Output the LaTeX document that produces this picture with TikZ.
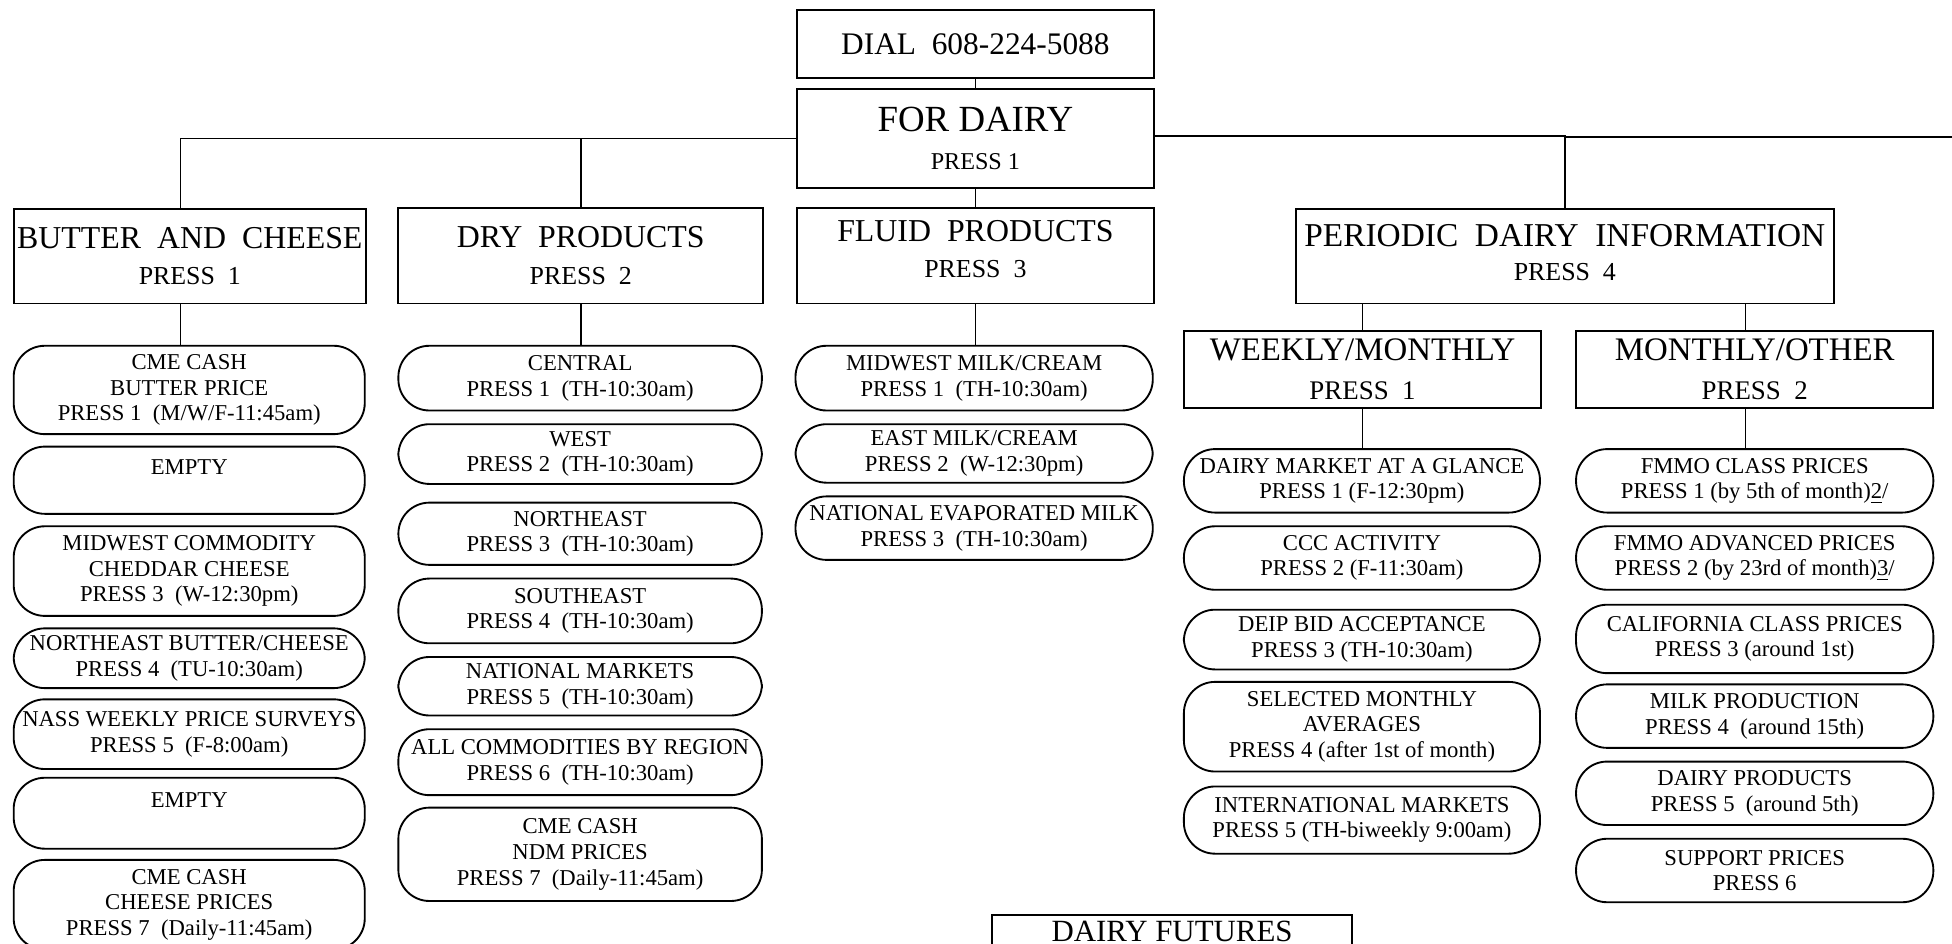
\documentclass[tikz,border=0pt]{standalone}
\usepackage{fontspec}
\setmainfont{Liberation Serif}
\usepackage{tikz}

\newcommand{\pillfont}{\fontsize{9.1}{10.3}\selectfont}
\newcommand{\headfont}{\fontsize{12.8}{14.5}\selectfont}
\newcommand{\subfont}{\fontsize{10.4}{12}\selectfont}

\tikzset{
	headbox/.style={draw, line width=0.8pt, inner sep=0pt, align=center, font=\headfont, anchor=north},
	pill/.style={draw, line width=0.75pt, rounded corners=12.5pt, inner sep=0pt, align=center, font=\pillfont, anchor=north},
	link/.style={line width=0.7pt},
}

\begin{document}
\begin{tikzpicture}[x=0.5pt,y=-0.5pt]
			\path[use as bounding box, fill=white] (0,0) rectangle (1568,758);
			% top of the tree
			\node[headbox, minimum width=143.5pt, minimum height=27.5pt, font=\fontsize{12.6}{14}\selectfont] (dial) at (783.5,7) {DIAL~ 608-224-5088};
			\node[headbox, minimum width=143.5pt, minimum height=39.5pt, font=\fontsize{14.8}{15}\selectfont] (fordairy) at (783.5,71) {FOR DAIRY\\{\fontsize{9.7}{11}\selectfont PRESS 1}};
			\node[headbox, minimum width=141.5pt, minimum height=38pt] (butter) at (152.5,167) {BUTTER~ AND~ CHEESE\\{\subfont PRESS~ 1}};
			\node[headbox, minimum width=146.5pt, minimum height=38.5pt] (dry) at (466.5,166) {DRY~ PRODUCTS\\{\subfont PRESS~ 2}};
			\node[headbox, minimum width=143.5pt, minimum height=38.5pt] (fluid) at (783.5,166) {FLUID~ PRODUCTS\\{\subfont PRESS~ 3}\\[-9.5pt]};
			\node[headbox, minimum width=216pt, minimum height=38pt, font=\fontsize{13.4}{14}\selectfont] (periodic) at (1257,167) {PERIODIC~ DAIRY~ INFORMATION\\{\subfont PRESS~ 4}\\[-11pt]};
			\node[headbox, minimum width=143.5pt, minimum height=31pt, font=\fontsize{13.2}{15.5}\selectfont] (weekly) at (1094.5,265) {WEEKLY/MONTHLY\\{\fontsize{10.8}{12}\selectfont PRESS~ 1}};
			\node[headbox, minimum width=143.5pt, minimum height=31pt, font=\fontsize{13.2}{15.5}\selectfont] (monthly) at (1409.5,265) {MONTHLY/OTHER\\{\fontsize{10.8}{12}\selectfont PRESS~ 2}};
			\node[headbox, minimum width=144.5pt, minimum height=13pt, font=\fontsize{12.4}{14}\selectfont] (futures) at (941.5,734) {DAIRY FUTURES};

			% butter and cheese
			\node[pill, minimum width=141pt, minimum height=35.5pt] (bc1) at (152,277) {CME CASH\\BUTTER PRICE\\PRESS 1~ (M/W/F-11:45am)};
			\node[pill, minimum width=141pt, minimum height=27pt] (bc2) at (152,358) {EMPTY\\~};
			\node[pill, minimum width=141pt, minimum height=36pt] (bc3) at (152,422) {MIDWEST COMMODITY\\CHEDDAR CHEESE\\PRESS 3~ (W-12:30pm)};
			\node[pill, minimum width=141pt, minimum height=24pt] (bc4) at (152,504) {NORTHEAST BUTTER/CHEESE\\PRESS 4~ (TU-10:30am)};
			\node[pill, minimum width=141pt, minimum height=28pt] (bc5) at (152,561) {NASS WEEKLY PRICE SURVEYS\\PRESS 5~ (F-8:00am)};
			\node[pill, minimum width=141pt, minimum height=28.5pt] (bc6) at (152,624) {EMPTY\\~};
			\node[pill, minimum width=141pt, minimum height=36pt] (bc7) at (152,690) {CME CASH\\CHEESE PRICES\\PRESS 7~ (Daily-11:45am)};

			% dry products
			\node[pill, minimum width=146pt, minimum height=26pt] (dp1) at (466,277) {CENTRAL\\PRESS 1~ (TH-10:30am)};
			\node[pill, minimum width=146pt, minimum height=24pt] (dp2) at (466,340) {WEST\\PRESS 2~ (TH-10:30am)};
			\node[pill, minimum width=146pt, minimum height=25pt] (dp3) at (466,403) {NORTHEAST\\PRESS 3~ (TH-10:30am)};
			\node[pill, minimum width=146pt, minimum height=26pt] (dp4) at (466,464) {SOUTHEAST\\PRESS 4~ (TH-10:30am)};
			\node[pill, minimum width=146pt, minimum height=23.5pt] (dp5) at (466,527) {NATIONAL MARKETS\\PRESS 5~ (TH-10:30am)};
			\node[pill, minimum width=146pt, minimum height=26.5pt] (dp6) at (466,585) {ALL COMMODITIES BY REGION\\PRESS 6~ (TH-10:30am)};
			\node[pill, minimum width=146pt, minimum height=37.5pt] (dp7) at (466,648) {CME CASH\\NDM PRICES\\PRESS 7~ (Daily-11:45am)};

			% fluid products
			\node[pill, minimum width=143.5pt, minimum height=26pt] (fp1) at (782.5,277) {MIDWEST MILK/CREAM\\PRESS 1~ (TH-10:30am)};
			\node[pill, minimum width=143.5pt, minimum height=23.5pt] (fp2) at (782.5,340) {EAST MILK/CREAM\\PRESS 2~ (W-12:30pm)};
			\node[pill, minimum width=143.5pt, minimum height=25.5pt] (fp3) at (782.5,398) {NATIONAL EVAPORATED MILK\\PRESS 3~ (TH-10:30am)};

			% weekly/monthly
			\node[pill, minimum width=143pt, minimum height=25.5pt] (wm1) at (1094,360) {DAIRY MARKET AT A GLANCE\\PRESS 1 (F-12:30pm)};
			\node[pill, minimum width=143pt, minimum height=25.5pt] (wm2) at (1094,422) {CCC ACTIVITY\\PRESS 2 (F-11:30am)};
			\node[pill, minimum width=143pt, minimum height=24pt] (wm3) at (1094,489) {DEIP BID ACCEPTANCE\\PRESS 3 (TH-10:30am)};
			\node[pill, minimum width=143pt, minimum height=36pt] (wm4) at (1094,547) {SELECTED MONTHLY\\AVERAGES\\PRESS 4 (after 1st of month)};
			\node[pill, minimum width=143pt, minimum height=27pt] (wm5) at (1094,631) {INTERNATIONAL MARKETS\\PRESS 5 (TH-biweekly 9:00am)};

			% monthly/other
			\node[pill, minimum width=143.5pt, minimum height=25.5pt] (mo1) at (1409.5,360) {FMMO CLASS PRICES\\PRESS 1 (by 5th of month)\underline{2}/};
			\node[pill, minimum width=143.5pt, minimum height=25.5pt] (mo2) at (1409.5,422) {FMMO ADVANCED PRICES\\PRESS 2 (by 23rd of month)\underline{3}/};
			\node[pill, minimum width=143.5pt, minimum height=27.5pt] (mo3) at (1409.5,485) {CALIFORNIA CLASS PRICES\\PRESS 3 (around 1st)};
			\node[pill, minimum width=143.5pt, minimum height=25.5pt] (mo4) at (1409.5,549) {MILK PRODUCTION\\PRESS 4~ (around 15th)};
			\node[pill, minimum width=143.5pt, minimum height=25.5pt] (mo5) at (1409.5,611) {DAIRY PRODUCTS\\PRESS 5~ (around 5th)};
			\node[pill, minimum width=143.5pt, minimum height=25.5pt] (mo6) at (1409.5,673) {SUPPORT PRICES\\PRESS 6};

			% connectors
			\coordinate (edge) at (1568,110);
			\draw[link] (dial.south) -- (fordairy.north);
			\draw[link] (fordairy.south) -- (fordairy.south |- fluid.north);
			\draw[link] (fordairy.west) -| ([xshift=-3.75pt]butter.north);
			\draw[link] (dry.north) -- (dry.north |- fordairy.west);
			\draw[link] ([yshift=1pt]fordairy.east) -| (periodic.north);
			\draw[link] (periodic.north |- edge) -- (edge);
			\draw[link] ([xshift=-3.75pt]butter.south) -- ([xshift=-3.75pt]butter.south |- bc1.north);
			\draw[link] (dry.south) -- (dry.south |- dp1.north);
			\draw[link] (fluid.south) -- (fluid.south |- fp1.north);
			\draw[link] (weekly.north |- periodic.south) -- (weekly.north);
			\draw[link] ([xshift=-3.75pt]monthly.north |- periodic.south) -- ([xshift=-3.75pt]monthly.north);
			\draw[link] (weekly.south) -- (weekly.south |- wm1.north);
			\draw[link] ([xshift=-3.75pt]monthly.south) -- ([xshift=-3.75pt]monthly.south |- mo1.north);
		\end{tikzpicture}
\end{document}
